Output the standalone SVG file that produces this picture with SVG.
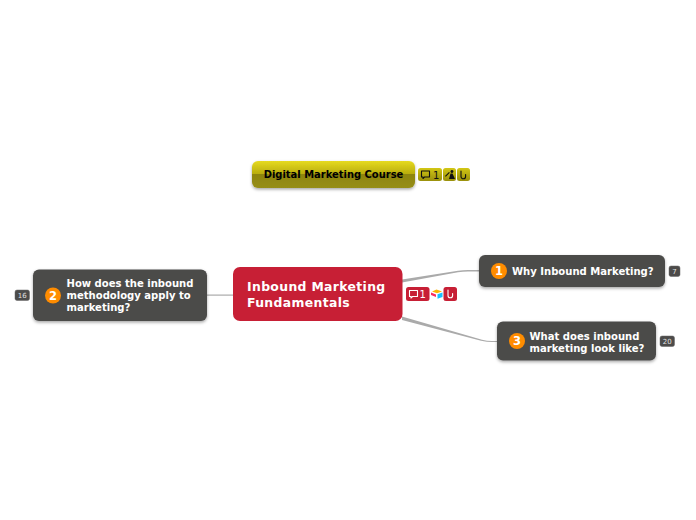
<svg xmlns="http://www.w3.org/2000/svg" width="696" height="520" viewBox="0 0 696 520">
<defs>
<linearGradient id="gold" x1="0" y1="0" x2="0" y2="1">
<stop offset="0" stop-color="#e6da20"/><stop offset="0.48" stop-color="#b9ad0c"/><stop offset="0.5" stop-color="#8e850b"/><stop offset="1" stop-color="#968e1a"/>
</linearGradient>
<linearGradient id="goldb" x1="0" y1="0" x2="0" y2="1">
<stop offset="0" stop-color="#d3c714"/><stop offset="1" stop-color="#9a900c"/>
</linearGradient>
<filter id="sh" x="-10%" y="-20%" width="120%" height="150%"><feDropShadow dx="0" dy="1.5" stdDeviation="1.5" flood-color="#000" flood-opacity="0.35"/></filter>
</defs>
<style>
text{font-family:"DejaVu Sans",sans-serif;font-weight:bold}
.t{fill:#fff;font-size:10.05px}
.dark{fill:#4c4b4a;filter:url(#sh)}
.num{fill:#ff8c00}
.n{fill:#fff;font-size:11.5px;text-anchor:middle}
.b{fill:#4c4b4a;stroke:#666;stroke-width:.5}
.c{fill:#e0e0e0;font-size:7px;font-weight:normal;text-anchor:middle}
.ic{fill:none;stroke-width:1.1;stroke-linecap:round;stroke-linejoin:round}
.conn{fill:#aaa}
</style>
<rect width="696" height="520" fill="#fff"/>
<g id="connectors">
<path class="conn" d="M402 279.500 L458 270.700 Q463 270 468 270 L480 270 L480 271.500 L468 271.500 Q463 271.500 458 272.200 L402 282.500Z"/>
<path class="conn" d="M402 316.500 L482 339.700 Q487 341 492 341 L498 341 L498 342 L492 342 Q487 342 481 340.700 L402 320Z"/>
<path fill="#aaa" d="M206 294.500H234V295.700H206Z"/>
</g>
<g id="node-course">
<rect x="252" y="161" width="163" height="27" rx="6" fill="url(#gold)" filter="url(#sh)"/>
<text x="333.500" y="178" text-anchor="middle" font-size="9.950" fill="#000">Digital Marketing Course</text>
<rect x="418" y="168" width="24" height="13" rx="2.500" fill="url(#goldb)"/>
<path class="ic" stroke="#111" d="M421.500 171h8v6h-5l-1.500 1.500v-1.500h-1.500z"/>
<text x="433" y="178.500" font-size="10" fill="#111" style="font-weight:normal">1</text>
<rect x="443" y="168" width="13" height="13" rx="2.500" fill="url(#goldb)"/>
<path d="M445 176l4-4 .8.8-4 4zM452 170a1.500 1.500 0 1 1 -.1 0zM449 179l1.500-5.500h2l2.500 5.500z" fill="#111"/>
<rect x="457" y="168" width="13" height="13" rx="2.500" fill="url(#goldb)"/>
<path class="ic" stroke="#111" d="M461 171v5.500a2.300 2.300 0 0 0 4.600 0v-2"/>
</g>
<g id="node-central">
<rect x="233" y="267" width="169.500" height="54" rx="7" fill="#c71f35"/>
<text fill="#fff" font-size="12.400" style="letter-spacing:.35px"><tspan x="247" y="291">Inbound Marketing</tspan><tspan x="247" y="307">Fundamentals</tspan></text>
<rect x="406" y="287" width="23.500" height="14" rx="2.500" fill="#c71f35"/>
<path class="ic" stroke="#fff" d="M409.500 290.500h8v6h-5l-1.500 1.500v-1.500h-1.500z"/>
<text x="419.500" y="298" font-size="10" fill="#fff" style="font-weight:normal">1</text>
<path d="M436.500 289.500l5.500 2-5 1.800-5-1.800z" fill="#fcb400"/>
<path d="M437.500 294.300l5-1.900v4.600l-5 1.800z" fill="#18bfff"/>
<path d="M431 292.500l5 2v2.500l-5-2z" fill="#f82b60"/>
<rect x="443.500" y="287" width="13.500" height="14" rx="2.500" fill="#c71f35"/>
<path class="ic" stroke="#fff" d="M448 290v5.500a2.300 2.300 0 0 0 4.600 0v-2"/>
</g>
<g id="node-why">
<rect class="dark" x="479" y="255" width="186" height="32" rx="6"/>
<circle class="num" cx="499" cy="271" r="8"/>
<text class="n" x="499" y="275">1</text>
<text class="t" x="512" y="275">Why Inbound Marketing?</text>
<rect class="b" x="669" y="266" width="11" height="10.500" rx="2"/>
<text class="c" x="674.500" y="274">7</text>
</g>
<g id="node-what">
<rect class="dark" x="497" y="321.500" width="159" height="39" rx="6"/>
<circle class="num" cx="517" cy="341" r="8"/>
<text class="n" x="517" y="345">3</text>
<text class="t"><tspan x="529.500" y="339.500">What does inbound</tspan><tspan x="529.500" y="351.500">marketing look like?</tspan></text>
<rect class="b" x="660" y="336" width="14.500" height="10.500" rx="2"/>
<text class="c" x="667.250" y="344">20</text>
</g>
<g id="node-how">
<rect class="dark" x="33" y="269.500" width="174" height="51.500" rx="6"/>
<circle class="num" cx="53" cy="295.500" r="8"/>
<text class="n" x="53" y="299.500">2</text>
<text class="t"><tspan x="66.500" y="287">How does the inbound</tspan><tspan x="66.500" y="299">methodology apply to</tspan><tspan x="66.500" y="311">marketing?</tspan></text>
<rect class="b" x="15" y="290" width="14.500" height="10.500" rx="2"/>
<text class="c" x="22.250" y="298">16</text>
</g>
</svg>
